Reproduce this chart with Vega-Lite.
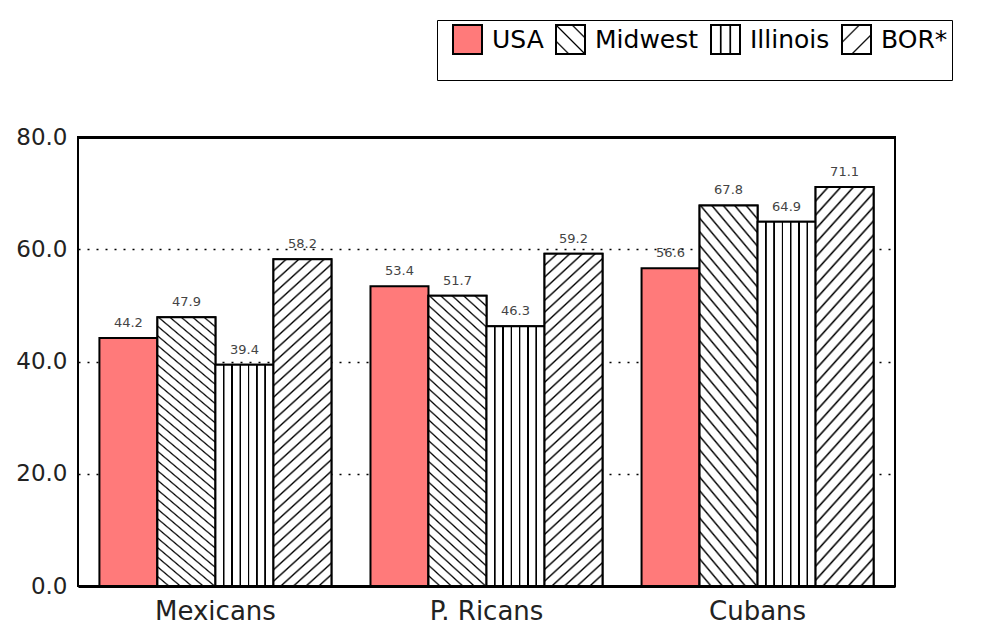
{
  "$schema": "https://vega.github.io/schema/vega-lite/v6.json",
  "width": 817,
  "height": 449,
  "autosize": {"type": "none"},
  "padding": {"left": 78, "top": 137, "right": 86, "bottom": 38},
  "background": "white",
  "config": {"font": "DejaVu Sans", "view": {"stroke": "black", "strokeWidth": 2}},
  "data": {
    "values": [
      {"group": "Mexicans", "region": "USA", "value": 44.2},
      {"group": "Mexicans", "region": "Midwest", "value": 47.9},
      {"group": "Mexicans", "region": "Illinois", "value": 39.4},
      {"group": "Mexicans", "region": "BOR*", "value": 58.2},
      {"group": "P. Ricans", "region": "USA", "value": 53.4},
      {"group": "P. Ricans", "region": "Midwest", "value": 51.7},
      {"group": "P. Ricans", "region": "Illinois", "value": 46.3},
      {"group": "P. Ricans", "region": "BOR*", "value": 59.2},
      {"group": "Cubans", "region": "USA", "value": 56.6},
      {"group": "Cubans", "region": "Midwest", "value": 67.8},
      {"group": "Cubans", "region": "Illinois", "value": 64.9},
      {"group": "Cubans", "region": "BOR*", "value": 71.1}
    ]
  },
  "layer": [
    {
      "mark": {"type": "bar", "stroke": "black", "strokeWidth": 2},
      "encoding": {
        "x": {
          "field": "group", "type": "nominal", "sort": ["Mexicans", "P. Ricans", "Cubans"],
          "scale": {"paddingInner": 0.144, "paddingOuter": 0.079},
          "axis": {"orient": "bottom", "title": null, "ticks": false, "domainWidth": 3, "domainColor": "black", "labelFontSize": 26, "labelPadding": 12, "labelColor": "#222", "labelAngle": 0}
        },
        "xOffset": {"field": "region", "type": "nominal", "scale": {"domain": ["USA", "Midwest", "Illinois", "BOR*"], "paddingInner": 0, "paddingOuter": 0}},
        "y": {
          "field": "value", "type": "quantitative",
          "scale": {"domain": [0, 80], "nice": false},
          "axis": {"values": [0, 20, 40, 60, 80], "format": ".1f", "grid": true, "gridColor": "black", "gridDash": [2, 7], "gridWidth": 1.5, "domain": false, "ticks": false, "labelFontSize": 23, "labelPadding": 11, "labelColor": "#222", "title": null}
        },
        "fill": {
          "field": "region", "type": "nominal",
          "scale": {"domain": ["USA", "Midwest", "Illinois", "BOR*"], "range": [
            "#ff7a7a",
            {"expr": "{gradient: 'linear', x1: 0, y1: 1, x2: 1, y2: 0, stops: [{offset: 0.19, color: '#fff'}, {offset: 0.22, color: '#000'}, {offset: 0.25, color: '#fff'}, {offset: 0.47, color: '#fff'}, {offset: 0.5, color: '#000'}, {offset: 0.53, color: '#fff'}, {offset: 0.75, color: '#fff'}, {offset: 0.78, color: '#000'}, {offset: 0.81, color: '#fff'}]}"},
            {"expr": "{gradient: 'linear', x1: 0, y1: 0, x2: 1, y2: 0, stops: [{offset: 0.29, color: '#fff'}, {offset: 0.32, color: '#000'}, {offset: 0.35, color: '#000'}, {offset: 0.38, color: '#fff'}, {offset: 0.62, color: '#fff'}, {offset: 0.65, color: '#000'}, {offset: 0.68, color: '#000'}, {offset: 0.71, color: '#fff'}]}"},
            {"expr": "{gradient: 'linear', x1: 0, y1: 0, x2: 1, y2: 1, stops: [{offset: 0.27, color: '#fff'}, {offset: 0.3, color: '#000'}, {offset: 0.33, color: '#fff'}, {offset: 0.64, color: '#fff'}, {offset: 0.67, color: '#000'}, {offset: 0.7, color: '#fff'}]}"}
          ]},
          "legend": {
            "orient": "none", "legendX": 359, "legendY": -117, "direction": "horizontal",
            "title": "                                                                                                         ", "titleOrient": "bottom", "titleFontSize": 16, "titlePadding": 2, "titleLimit": 700,
            "strokeColor": "black", "fillColor": "white", "padding": 4,
            "symbolType": "square", "symbolSize": 841, "symbolStrokeColor": "black", "symbolStrokeWidth": 2, "symbolOffset": 11,
            "labelFontSize": 25, "labelOffset": 9, "labelColor": "black", "columnPadding": 0
          }
        }
      }
    },
    {
      "transform": [{"filter": "datum.region === 'Midwest'"}],
      "mark": {"type": "bar", "stroke": "black", "strokeWidth": 2, "fill": {"gradient": "linear", "x1": 0, "y1": 1, "x2": 0.208, "y2": -0.144, "stops": [
              {"offset":0.0253,"color":"#fff"},{"offset":0.0303,"color":"#000"},{"offset":0.0353,"color":"#fff"},
              {"offset":0.0556,"color":"#fff"},{"offset":0.0606,"color":"#000"},{"offset":0.0656,"color":"#fff"},
              {"offset":0.0859,"color":"#fff"},{"offset":0.0909,"color":"#000"},{"offset":0.0959,"color":"#fff"},
              {"offset":0.1162,"color":"#fff"},{"offset":0.1212,"color":"#000"},{"offset":0.1262,"color":"#fff"},
              {"offset":0.1465,"color":"#fff"},{"offset":0.1515,"color":"#000"},{"offset":0.1565,"color":"#fff"},
              {"offset":0.1768,"color":"#fff"},{"offset":0.1818,"color":"#000"},{"offset":0.1868,"color":"#fff"},
              {"offset":0.2071,"color":"#fff"},{"offset":0.2121,"color":"#000"},{"offset":0.2171,"color":"#fff"},
              {"offset":0.2374,"color":"#fff"},{"offset":0.2424,"color":"#000"},{"offset":0.2474,"color":"#fff"},
              {"offset":0.2677,"color":"#fff"},{"offset":0.2727,"color":"#000"},{"offset":0.2777,"color":"#fff"},
              {"offset":0.2980,"color":"#fff"},{"offset":0.3030,"color":"#000"},{"offset":0.3080,"color":"#fff"},
              {"offset":0.3283,"color":"#fff"},{"offset":0.3333,"color":"#000"},{"offset":0.3383,"color":"#fff"},
              {"offset":0.3586,"color":"#fff"},{"offset":0.3636,"color":"#000"},{"offset":0.3686,"color":"#fff"},
              {"offset":0.3889,"color":"#fff"},{"offset":0.3939,"color":"#000"},{"offset":0.3989,"color":"#fff"},
              {"offset":0.4192,"color":"#fff"},{"offset":0.4242,"color":"#000"},{"offset":0.4292,"color":"#fff"},
              {"offset":0.4495,"color":"#fff"},{"offset":0.4545,"color":"#000"},{"offset":0.4595,"color":"#fff"},
              {"offset":0.4798,"color":"#fff"},{"offset":0.4848,"color":"#000"},{"offset":0.4898,"color":"#fff"},
              {"offset":0.5102,"color":"#fff"},{"offset":0.5152,"color":"#000"},{"offset":0.5202,"color":"#fff"},
              {"offset":0.5405,"color":"#fff"},{"offset":0.5455,"color":"#000"},{"offset":0.5505,"color":"#fff"},
              {"offset":0.5708,"color":"#fff"},{"offset":0.5758,"color":"#000"},{"offset":0.5808,"color":"#fff"},
              {"offset":0.6011,"color":"#fff"},{"offset":0.6061,"color":"#000"},{"offset":0.6111,"color":"#fff"},
              {"offset":0.6314,"color":"#fff"},{"offset":0.6364,"color":"#000"},{"offset":0.6414,"color":"#fff"},
              {"offset":0.6617,"color":"#fff"},{"offset":0.6667,"color":"#000"},{"offset":0.6717,"color":"#fff"},
              {"offset":0.6920,"color":"#fff"},{"offset":0.6970,"color":"#000"},{"offset":0.7020,"color":"#fff"},
              {"offset":0.7223,"color":"#fff"},{"offset":0.7273,"color":"#000"},{"offset":0.7323,"color":"#fff"},
              {"offset":0.7526,"color":"#fff"},{"offset":0.7576,"color":"#000"},{"offset":0.7626,"color":"#fff"},
              {"offset":0.7829,"color":"#fff"},{"offset":0.7879,"color":"#000"},{"offset":0.7929,"color":"#fff"},
              {"offset":0.8132,"color":"#fff"},{"offset":0.8182,"color":"#000"},{"offset":0.8232,"color":"#fff"},
              {"offset":0.8435,"color":"#fff"},{"offset":0.8485,"color":"#000"},{"offset":0.8535,"color":"#fff"},
              {"offset":0.8738,"color":"#fff"},{"offset":0.8788,"color":"#000"},{"offset":0.8838,"color":"#fff"},
              {"offset":0.9041,"color":"#fff"},{"offset":0.9091,"color":"#000"},{"offset":0.9141,"color":"#fff"},
              {"offset":0.9344,"color":"#fff"},{"offset":0.9394,"color":"#000"},{"offset":0.9444,"color":"#fff"},
              {"offset":0.9647,"color":"#fff"},{"offset":0.9697,"color":"#000"},{"offset":0.9747,"color":"#fff"}
            ]}},
      "encoding": {
        "x": {"field": "group", "type": "nominal", "sort": ["Mexicans", "P. Ricans", "Cubans"], "axis": null},
        "xOffset": {"field": "region", "type": "nominal"},
        "y": {"field": "value", "type": "quantitative", "axis": null}
      }
    },
    {
      "transform": [{"filter": "datum.region === 'Illinois'"}],
      "mark": {"type": "bar", "stroke": "black", "strokeWidth": 2, "fill": {"gradient": "linear", "x1": 0, "y1": 0, "x2": 1, "y2": 0, "stops": [
              {"offset":0.1259,"color":"#fff"},{"offset":0.1329,"color":"#000"},{"offset":0.1529,"color":"#000"},{"offset":0.1599,"color":"#fff"},
              {"offset":0.2687,"color":"#fff"},{"offset":0.2757,"color":"#000"},{"offset":0.2957,"color":"#000"},{"offset":0.3027,"color":"#fff"},
              {"offset":0.4116,"color":"#fff"},{"offset":0.4186,"color":"#000"},{"offset":0.4386,"color":"#000"},{"offset":0.4456,"color":"#fff"},
              {"offset":0.5544,"color":"#fff"},{"offset":0.5614,"color":"#000"},{"offset":0.5814,"color":"#000"},{"offset":0.5884,"color":"#fff"},
              {"offset":0.6973,"color":"#fff"},{"offset":0.7043,"color":"#000"},{"offset":0.7243,"color":"#000"},{"offset":0.7313,"color":"#fff"},
              {"offset":0.8401,"color":"#fff"},{"offset":0.8471,"color":"#000"},{"offset":0.8671,"color":"#000"},{"offset":0.8741,"color":"#fff"}
            ]}},
      "encoding": {
        "x": {"field": "group", "type": "nominal", "sort": ["Mexicans", "P. Ricans", "Cubans"], "axis": null},
        "xOffset": {"field": "region", "type": "nominal"},
        "y": {"field": "value", "type": "quantitative", "axis": null}
      }
    },
    {
      "transform": [{"filter": "datum.region === 'BOR*'"}],
      "mark": {"type": "bar", "stroke": "black", "strokeWidth": 2, "fill": {"gradient": "linear", "x1": 0, "y1": 0, "x2": 0.1826, "y2": 1.132, "stops": [
              {"offset":0.0253,"color":"#fff"},{"offset":0.0303,"color":"#000"},{"offset":0.0353,"color":"#fff"},
              {"offset":0.0556,"color":"#fff"},{"offset":0.0606,"color":"#000"},{"offset":0.0656,"color":"#fff"},
              {"offset":0.0859,"color":"#fff"},{"offset":0.0909,"color":"#000"},{"offset":0.0959,"color":"#fff"},
              {"offset":0.1162,"color":"#fff"},{"offset":0.1212,"color":"#000"},{"offset":0.1262,"color":"#fff"},
              {"offset":0.1465,"color":"#fff"},{"offset":0.1515,"color":"#000"},{"offset":0.1565,"color":"#fff"},
              {"offset":0.1768,"color":"#fff"},{"offset":0.1818,"color":"#000"},{"offset":0.1868,"color":"#fff"},
              {"offset":0.2071,"color":"#fff"},{"offset":0.2121,"color":"#000"},{"offset":0.2171,"color":"#fff"},
              {"offset":0.2374,"color":"#fff"},{"offset":0.2424,"color":"#000"},{"offset":0.2474,"color":"#fff"},
              {"offset":0.2677,"color":"#fff"},{"offset":0.2727,"color":"#000"},{"offset":0.2777,"color":"#fff"},
              {"offset":0.2980,"color":"#fff"},{"offset":0.3030,"color":"#000"},{"offset":0.3080,"color":"#fff"},
              {"offset":0.3283,"color":"#fff"},{"offset":0.3333,"color":"#000"},{"offset":0.3383,"color":"#fff"},
              {"offset":0.3586,"color":"#fff"},{"offset":0.3636,"color":"#000"},{"offset":0.3686,"color":"#fff"},
              {"offset":0.3889,"color":"#fff"},{"offset":0.3939,"color":"#000"},{"offset":0.3989,"color":"#fff"},
              {"offset":0.4192,"color":"#fff"},{"offset":0.4242,"color":"#000"},{"offset":0.4292,"color":"#fff"},
              {"offset":0.4495,"color":"#fff"},{"offset":0.4545,"color":"#000"},{"offset":0.4595,"color":"#fff"},
              {"offset":0.4798,"color":"#fff"},{"offset":0.4848,"color":"#000"},{"offset":0.4898,"color":"#fff"},
              {"offset":0.5102,"color":"#fff"},{"offset":0.5152,"color":"#000"},{"offset":0.5202,"color":"#fff"},
              {"offset":0.5405,"color":"#fff"},{"offset":0.5455,"color":"#000"},{"offset":0.5505,"color":"#fff"},
              {"offset":0.5708,"color":"#fff"},{"offset":0.5758,"color":"#000"},{"offset":0.5808,"color":"#fff"},
              {"offset":0.6011,"color":"#fff"},{"offset":0.6061,"color":"#000"},{"offset":0.6111,"color":"#fff"},
              {"offset":0.6314,"color":"#fff"},{"offset":0.6364,"color":"#000"},{"offset":0.6414,"color":"#fff"},
              {"offset":0.6617,"color":"#fff"},{"offset":0.6667,"color":"#000"},{"offset":0.6717,"color":"#fff"},
              {"offset":0.6920,"color":"#fff"},{"offset":0.6970,"color":"#000"},{"offset":0.7020,"color":"#fff"},
              {"offset":0.7223,"color":"#fff"},{"offset":0.7273,"color":"#000"},{"offset":0.7323,"color":"#fff"},
              {"offset":0.7526,"color":"#fff"},{"offset":0.7576,"color":"#000"},{"offset":0.7626,"color":"#fff"},
              {"offset":0.7829,"color":"#fff"},{"offset":0.7879,"color":"#000"},{"offset":0.7929,"color":"#fff"},
              {"offset":0.8132,"color":"#fff"},{"offset":0.8182,"color":"#000"},{"offset":0.8232,"color":"#fff"},
              {"offset":0.8435,"color":"#fff"},{"offset":0.8485,"color":"#000"},{"offset":0.8535,"color":"#fff"},
              {"offset":0.8738,"color":"#fff"},{"offset":0.8788,"color":"#000"},{"offset":0.8838,"color":"#fff"},
              {"offset":0.9041,"color":"#fff"},{"offset":0.9091,"color":"#000"},{"offset":0.9141,"color":"#fff"},
              {"offset":0.9344,"color":"#fff"},{"offset":0.9394,"color":"#000"},{"offset":0.9444,"color":"#fff"},
              {"offset":0.9647,"color":"#fff"},{"offset":0.9697,"color":"#000"},{"offset":0.9747,"color":"#fff"}
            ]}},
      "encoding": {
        "x": {"field": "group", "type": "nominal", "sort": ["Mexicans", "P. Ricans", "Cubans"], "axis": null},
        "xOffset": {"field": "region", "type": "nominal"},
        "y": {"field": "value", "type": "quantitative", "axis": null}
      }
    },
    {
      "mark": {"type": "text", "baseline": "alphabetic", "dy": -11, "fontSize": 13, "fill": "#444"},
      "encoding": {
        "x": {
          "field": "group", "type": "nominal", "sort": ["Mexicans", "P. Ricans", "Cubans"],
          "axis": {"orient": "top", "title": null, "ticks": false, "labels": false, "domainWidth": 3, "domainColor": "black", "grid": false}
        },
        "xOffset": {"field": "region", "type": "nominal"},
        "y": {"field": "value", "type": "quantitative", "axis": null},
        "text": {"field": "value", "type": "quantitative", "format": ".1f"}
      }
    }
  ],
  "resolve": {"axis": {"x": "independent", "y": "independent"}}
}
